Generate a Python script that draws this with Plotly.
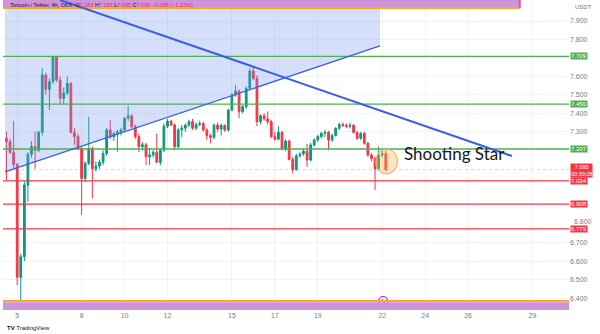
import pandas as pd
import plotly.graph_objects as go

# ---------------- data ----------------
start_time = "2024-06-04 12:00"
opens = [7.265, 7.247, 7.189, 7.124, 6.512, 6.624, 7.012, 7.178, 7.220, 7.200,
         7.297, 7.608, 7.530, 7.571, 7.705, 7.580, 7.481, 7.510, 7.562, 7.297,
         7.274, 7.210, 7.048, 7.129, 7.210, 7.100, 7.115, 7.135, 7.183, 7.310,
         7.274, 7.290, 7.300, 7.310, 7.373, 7.387, 7.328, 7.274, 7.220, 7.230,
         7.165, 7.175, 7.190, 7.135, 7.200, 7.330, 7.358, 7.337, 7.220, 7.310,
         7.320, 7.337, 7.355, 7.320, 7.340, 7.345, 7.310, 7.279, 7.270, 7.337,
         7.315, 7.335, 7.310, 7.418, 7.500, 7.521, 7.409, 7.436, 7.535, 7.629,
         7.589, 7.355, 7.387, 7.370, 7.355, 7.274, 7.260, 7.297, 7.207, 7.250,
         7.150, 7.095, 7.170, 7.180, 7.195, 7.147, 7.229, 7.256, 7.274, 7.292,
         7.297, 7.256, 7.280, 7.319, 7.340, 7.335, 7.330, 7.335, 7.297, 7.265,
         7.292, 7.238, 7.174, 7.156, 7.099, 7.174, 7.183]
highs = [7.300, 7.262, 7.358, 7.130, 6.640, 7.030, 7.190, 7.250, 7.300, 7.305,
         7.644, 7.620, 7.590, 7.709, 7.709, 7.600, 7.540, 7.600, 7.570, 7.320,
         7.290, 7.220, 7.140, 7.382, 7.220, 7.140, 7.150, 7.200, 7.320, 7.364,
         7.300, 7.310, 7.320, 7.380, 7.442, 7.395, 7.340, 7.290, 7.245, 7.240,
         7.210, 7.200, 7.290, 7.210, 7.346, 7.370, 7.365, 7.345, 7.320, 7.337,
         7.345, 7.365, 7.370, 7.350, 7.360, 7.355, 7.320, 7.290, 7.345, 7.350,
         7.345, 7.340, 7.425, 7.510, 7.553, 7.530, 7.445, 7.545, 7.644, 7.655,
         7.607, 7.395, 7.400, 7.410, 7.365, 7.300, 7.330, 7.305, 7.260, 7.258,
         7.165, 7.180, 7.190, 7.210, 7.235, 7.240, 7.265, 7.285, 7.300, 7.310,
         7.305, 7.290, 7.325, 7.350, 7.352, 7.345, 7.350, 7.342, 7.305, 7.300,
         7.300, 7.245, 7.185, 7.165, 7.220, 7.200, 7.199]
lows = [7.040, 7.180, 7.100, 6.471, 6.385, 6.600, 6.922, 7.160, 7.100, 7.190,
        7.280, 7.500, 7.418, 7.560, 7.570, 7.450, 7.450, 7.500, 7.290, 7.230,
        7.200, 6.850, 7.030, 7.120, 6.940, 7.085, 7.100, 7.120, 7.170, 7.260,
        7.250, 7.192, 7.280, 7.300, 7.360, 7.320, 7.260, 7.190, 7.200, 7.120,
        7.120, 7.160, 7.130, 7.120, 7.190, 7.320, 7.330, 7.200, 7.210, 7.270,
        7.300, 7.325, 7.310, 7.310, 7.330, 7.300, 7.256, 7.238, 7.260, 7.300,
        7.280, 7.300, 7.300, 7.410, 7.490, 7.373, 7.400, 7.425, 7.525, 7.580,
        7.330, 7.340, 7.360, 7.340, 7.265, 7.250, 7.255, 7.200, 7.195, 7.145,
        7.075, 7.090, 7.160, 7.170, 7.110, 7.140, 7.220, 7.245, 7.265, 7.270,
        7.200, 7.245, 7.275, 7.310, 7.325, 7.320, 7.318, 7.290, 7.255, 7.255,
        7.230, 7.165, 7.140, 6.985, 7.090, 7.160, 7.085]
closes = [7.247, 7.189, 7.124, 6.512, 6.624, 7.012, 7.178, 7.220, 7.200, 7.297,
          7.608, 7.530, 7.571, 7.705, 7.580, 7.481, 7.510, 7.562, 7.297, 7.274,
          7.210, 7.048, 7.129, 7.210, 7.100, 7.115, 7.135, 7.183, 7.310, 7.274,
          7.290, 7.300, 7.310, 7.373, 7.387, 7.328, 7.274, 7.220, 7.230, 7.165,
          7.175, 7.190, 7.135, 7.200, 7.330, 7.358, 7.337, 7.220, 7.310, 7.320,
          7.337, 7.355, 7.320, 7.340, 7.345, 7.310, 7.279, 7.270, 7.337, 7.315,
          7.335, 7.310, 7.418, 7.500, 7.521, 7.409, 7.436, 7.535, 7.629, 7.589,
          7.355, 7.387, 7.370, 7.355, 7.274, 7.260, 7.297, 7.207, 7.250, 7.150,
          7.095, 7.170, 7.180, 7.195, 7.147, 7.229, 7.256, 7.274, 7.292, 7.297,
          7.256, 7.280, 7.319, 7.340, 7.335, 7.330, 7.335, 7.297, 7.265, 7.292,
          7.238, 7.174, 7.156, 7.099, 7.174, 7.183, 7.095]

resistance_levels = [7.709, 7.450, 7.207]
support_levels = [7.034, 6.908, 6.775]
last_price = 7.095
countdown = "00:59:08"

tick_days = [5, 8, 10, 12, 15, 17, 19, 22, 24, 26, 29]
tick_dates = [f"2024-06-{d:02d}" for d in tick_days]
tick_labels = [str(d) for d in tick_days]
price_ticks = [7.9, 7.8, 7.6, 7.5, 7.4, 7.3, 6.7, 6.6, 6.5, 6.4]
squeezed_tick = 6.8   # label that sits just above the 6.775 box

x_range = ["2024-06-04 08:08", "2024-06-30 16:48"]
y_range = [6.3353, 8.0137]

# trend lines (time, price)
asc_line = (("2024-06-04 10:20", 7.083), ("2024-06-21 21:30", 7.765))
desc_line = (("2024-06-06 23:50", 8.0137), ("2024-06-28 01:00", 7.169))
fill_top = 7.965
band_top = (7.976, 8.0137)
band_top_line = 7.9704
band_bottom = (6.3353, 6.377)
band_bottom_line = 6.384
star_circle = ("2024-06-21 16:30", "2024-06-22 17:07", 7.0716, 7.207)
star_text_pos = ("2024-06-22 22:00", 7.180)
event_pos = ("2024-06-22 01:00", 6.384)

times = pd.date_range(start_time, periods=len(opens), freq="4h")

GREEN = "#089981"
RED = "#F23645"
LINE_GREEN = "#4CAF50"
LINE_RED = "#F23645"
BLUE = "#3A5FE0"
AXIS_TXT = "#787B86"
FONT = "Liberation Sans"

fig = go.Figure()

# blue shaded area above the rising line
fig.add_trace(go.Scatter(
    x=[asc_line[0][0], asc_line[1][0], asc_line[1][0], asc_line[0][0], asc_line[0][0]],
    y=[asc_line[0][1], asc_line[1][1], fill_top, fill_top, asc_line[0][1]],
    fill="toself", fillcolor="rgba(120,150,240,0.30)", line=dict(width=0),
    mode="lines", hoverinfo="skip", showlegend=False))

fig.add_trace(go.Candlestick(
    x=times, open=opens, high=highs, low=lows, close=closes,
    increasing=dict(line=dict(color=GREEN, width=1), fillcolor=GREEN),
    decreasing=dict(line=dict(color=RED, width=1), fillcolor=RED),
    whiskerwidth=0, showlegend=False))

# event marker
fig.add_trace(go.Scatter(
    x=[event_pos[0]], y=[event_pos[1]], mode="markers+text",
    marker=dict(symbol="circle", size=9, color="white",
                line=dict(color="#9C27B0", width=1.2)),
    text=["ϟ"], textposition="middle center",
    textfont=dict(size=7, color="#9C27B0"),
    hoverinfo="skip", showlegend=False, cliponaxis=False))

shapes = []
# top & bottom bands
shapes.append(dict(type="rect", xref="paper", yref="y", x0=0, x1=0.913,
                   y0=band_top[0], y1=band_top[1], fillcolor="#CE93D8",
                   line=dict(width=0), layer="above"))
shapes.append(dict(type="line", xref="paper", yref="y", x0=0, x1=0.913,
                   y0=band_top_line, y1=band_top_line,
                   line=dict(color="#FFA726", width=2), layer="above"))
shapes.append(dict(type="line", xref="paper", yref="y", x0=0.913, x1=0.913,
                   y0=band_top_line, y1=band_top[1],
                   line=dict(color="#E0559A", width=2), layer="above"))
shapes.append(dict(type="rect", xref="paper", yref="y", x0=0, x1=1,
                   y0=band_bottom[0], y1=band_bottom[1], fillcolor="#CE93D8",
                   line=dict(width=0), layer="above"))
shapes.append(dict(type="line", xref="paper", yref="y", x0=0, x1=1,
                   y0=band_bottom_line, y1=band_bottom_line,
                   line=dict(color="#FFA726", width=2), layer="above"))

# horizontal levels
for lv in resistance_levels:
    shapes.append(dict(type="line", xref="paper", yref="y", x0=0, x1=1, y0=lv, y1=lv,
                       line=dict(color=LINE_GREEN, width=1.3), layer="above"))
for lv in support_levels:
    shapes.append(dict(type="line", xref="paper", yref="y", x0=0, x1=1, y0=lv, y1=lv,
                       line=dict(color=LINE_RED, width=1.3), layer="above"))
shapes.append(dict(type="line", xref="paper", yref="y", x0=0, x1=1,
                   y0=last_price, y1=last_price,
                   line=dict(color="#D1D4DC", width=1, dash="dot"), layer="below"))

# trend lines
shapes.append(dict(type="line", xref="x", yref="y",
                   x0=asc_line[0][0], y0=asc_line[0][1], x1=asc_line[1][0], y1=asc_line[1][1],
                   line=dict(color=BLUE, width=1.2), layer="above"))
shapes.append(dict(type="line", xref="x", yref="y",
                   x0=desc_line[0][0], y0=desc_line[0][1], x1=desc_line[1][0], y1=desc_line[1][1],
                   line=dict(color=BLUE, width=2), layer="above"))

# shooting star circle
shapes.append(dict(type="circle", xref="x", yref="y",
                   x0=star_circle[0], x1=star_circle[1],
                   y0=star_circle[2], y1=star_circle[3],
                   fillcolor="rgba(255,183,77,0.35)",
                   line=dict(color="#FFA726", width=1), layer="above"))

annotations = []
annotations.append(dict(x=star_text_pos[0], y=star_text_pos[1], xref="x", yref="y",
                        text="Shooting Star", showarrow=False, xanchor="left",
                        yanchor="middle",
                        font=dict(family="Lato", size=17, color="#131722")))

# price scale boxes
for lv in resistance_levels:
    annotations.append(dict(x=1, y=lv, xref="paper", yref="y", xanchor="left",
                            xshift=1, yanchor="middle", text=f"{lv:.3f}", showarrow=False,
                            bgcolor=LINE_GREEN, borderpad=0,
                            font=dict(family=FONT, size=6, color="white")))
for lv in support_levels:
    annotations.append(dict(x=1, y=lv, xref="paper", yref="y", xanchor="left",
                            xshift=1, yanchor="middle", text=f"{lv:.3f}", showarrow=False,
                            bgcolor=LINE_RED, borderpad=0,
                            font=dict(family=FONT, size=6, color="white")))
annotations.append(dict(x=1, y=last_price, xref="paper", yref="y", xanchor="left",
                        xshift=1, yanchor="top", yshift=7,
                        text=f"{last_price:.3f}<br>{countdown}",
                        showarrow=False, bgcolor=RED, borderpad=0,
                        font=dict(family=FONT, size=5.5, color="white")))
annotations.append(dict(x=1, y=squeezed_tick, xref="paper", yref="y", xanchor="left",
                        xshift=3, yanchor="bottom", yshift=-3, text=f"{squeezed_tick:.3f}",
                        showarrow=False,
                        font=dict(family=FONT, size=7, color=AXIS_TXT)))
annotations.append(dict(x=1, y=0.978, xref="paper", yref="paper", xanchor="left",
                        xshift=4, yanchor="middle", text="USDT", showarrow=False,
                        font=dict(family=FONT, size=6, color=AXIS_TXT)))

# header
annotations.append(dict(
    x=0.009, y=0.985, xref="paper", yref="paper", xanchor="left", yanchor="middle",
    showarrow=False,
    text=("Toncoin / Tether, 4h, OKX  O<span style='color:#F23645'>7.183</span> "
          "H<span style='color:#F23645'>7.199</span> L<span style='color:#F23645'>7.085</span> "
          "C<span style='color:#F23645'>7.095 −0.088 (−1.23%)</span>"),
    font=dict(family=FONT, size=5.5, color="#131722")))

# TradingView tag
annotations.append(dict(x=0.003, y=-0.058, xref="paper", yref="paper", xanchor="left",
                        yanchor="middle", showarrow=False,
                        text="<b>TV</b> TradingView",
                        font=dict(family=FONT, size=6, color="#131722")))

fig.update_layout(
    width=600, height=334,
    margin=dict(l=3, r=31, t=0, b=24),
    paper_bgcolor="white", plot_bgcolor="white",
    shapes=shapes, annotations=annotations,
    showlegend=False,
    xaxis=dict(type="date", range=x_range, rangeslider=dict(visible=False),
               tickvals=tick_dates, ticktext=tick_labels,
               tickfont=dict(family=FONT, size=7, color=AXIS_TXT),
               showgrid=True, gridcolor="#F2F3F6", gridwidth=1, zeroline=False,
               ticks="", showline=False, fixedrange=True),
    yaxis=dict(side="right", range=y_range, tickvals=price_ticks,
               tickformat=".3f",
               tickfont=dict(family=FONT, size=7, color=AXIS_TXT),
               showgrid=True, gridcolor="#F2F3F6", gridwidth=1, zeroline=False,
               ticks="", showline=False, fixedrange=True),
)

fig.write_html("out.html")
